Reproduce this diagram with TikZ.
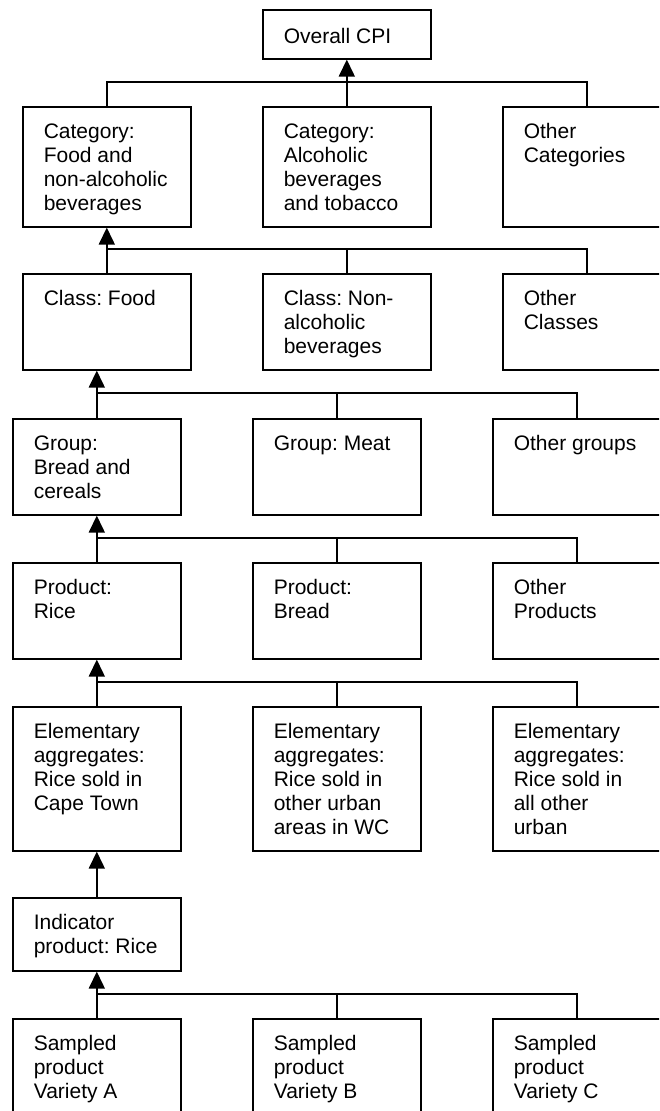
\documentclass[tikz,border=0pt]{standalone}
\usepackage{fontspec}
\setmainfont{Liberation Sans}
\usetikzlibrary{arrows.meta}
\frenchspacing
\newcommand\lvltext[3][32pt]{\parbox[c][#2][t]{126pt}{\raggedright\rule{0pt}{#1}#3}}

\begin{document}
\begin{tikzpicture}[x=1pt,y=-1pt,
  lvl/.style={draw,line width=1.6pt,anchor=north west,inner xsep=21pt,inner ysep=0pt,font=\fontsize{21}{24}\selectfont},
  link/.style={line width=1.6pt},
  up/.style={link,-{Triangle[width=16pt,length=17pt]}}]
\path[use as bounding box] (0,0) rectangle (659,1111);
\clip (0,0) rectangle (659,1111);

\node[lvl] (cpi) at (262,9) {\lvltext[34pt]{49pt}{Overall CPI}};

\node[lvl] (cat1) at (22,106) {\lvltext{120pt}{Category:\\Food and\\non-alcoholic\\beverages}};
\node[lvl] (cat2) at (262,106) {\lvltext{120pt}{Category:\\Alcoholic\\beverages\\and tobacco}};
\node[lvl] (cat3) at (502,106) {\lvltext{120pt}{Other\\Categories}};

\node[lvl] (cls1) at (22,273) {\lvltext{96pt}{Class: Food}};
\node[lvl] (cls2) at (262,273) {\lvltext{96pt}{Class: Non-\\alcoholic\\beverages}};
\node[lvl] (cls3) at (502,273) {\lvltext{96pt}{Other\\Classes}};

\node[lvl] (grp1) at (12,418) {\lvltext{96pt}{Group:\\Bread and\\cereals}};
\node[lvl] (grp2) at (252,418) {\lvltext{96pt}{Group: Meat}};
\node[lvl] (grp3) at (492,418) {\lvltext{96pt}{Other groups}};

\node[lvl] (prd1) at (12,562) {\lvltext{96pt}{Product:\\Rice}};
\node[lvl] (prd2) at (252,562) {\lvltext{96pt}{Product:\\Bread}};
\node[lvl] (prd3) at (492,562) {\lvltext{96pt}{Other\\Products}};

\node[lvl] (ea1) at (12,706) {\lvltext{144pt}{Elementary\\aggregates:\\Rice sold in\\Cape Town}};
\node[lvl] (ea2) at (252,706) {\lvltext{144pt}{Elementary\\aggregates:\\Rice sold in\\other urban\\areas in WC}};
\node[lvl] (ea3) at (492,706) {\lvltext{144pt}{Elementary\\aggregates:\\Rice sold in\\all other\\urban}};

\node[lvl] (ind) at (12,897) {\lvltext{73pt}{Indicator\\product: Rice}};

\node[lvl] (smp1) at (12,1018) {\lvltext{120pt}{Sampled\\product\\Variety A}};
\node[lvl] (smp2) at (252,1018) {\lvltext{120pt}{Sampled\\product\\Variety B}};
\node[lvl] (smp3) at (492,1018) {\lvltext{120pt}{Sampled\\product\\Variety C}};

% categories
\draw[link] (cat1.north) -- ++(0,-24) -| (cat3.north);
\draw[up] (cat2.north) -- (cpi.south);
% classes
\draw[link] (cls1.north) -- ++(0,-24) -| (cls3.north);
\draw[link] (cls2.north) -- ++(0,-24);
\draw[up] (cls1.north) -- (cat1.south);
% groups
\draw[link] (grp1.north) -- ++(0,-25) -| (grp3.north);
\draw[link] (grp2.north) -- ++(0,-25);
\draw[up] (grp1.north) -- (grp1.north |- cls1.south);
% products
\draw[link] (prd1.north) -- ++(0,-24) -| (prd3.north);
\draw[link] (prd2.north) -- ++(0,-24);
\draw[up] (prd1.north) -- (grp1.south);
% elementary aggregates
\draw[link] (ea1.north) -- ++(0,-24) -| (ea3.north);
\draw[link] (ea2.north) -- ++(0,-24);
\draw[up] (ea1.north) -- (prd1.south);
% indicator and samples
\draw[up] (ind.north) -- (ea1.south);
\draw[link] (smp1.north) -- ++(0,-24) -| (smp3.north);
\draw[link] (smp2.north) -- ++(0,-24);
\draw[up] (smp1.north) -- (ind.south);
\end{tikzpicture}
\end{document}
